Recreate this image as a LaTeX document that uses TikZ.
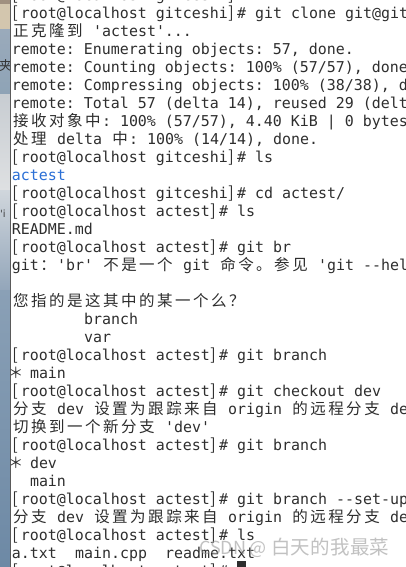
\documentclass[tikz,border=0pt]{standalone}
\usepackage{fontspec}
\setmonofont{DejaVu Sans Mono}
\newfontfamily\cjk{Noto Sans CJK SC}
\newfontfamily\wmfont{Noto Sans CJK SC}
\newfontfamily\deskfont{DejaVu Sans}
\definecolor{term}{HTML}{2E2E2E}
\definecolor{dirblue}{HTML}{2A6FD6}
\makeatletter
\newcommand\zh[1]{{\fontsize{15.5pt}{18pt}\cjk\@tfor\zz@c:=#1\do{\makebox[18pt][c]{\zz@c}}}}
\newcommand\zhw[1]{{\fontsize{19.5pt}{22pt}\wmfont\@tfor\zz@c:=#1\do{\makebox[19.7pt][c]{\zz@c}}}}
\makeatother
\newcommand\lb{\makebox[9pt][l]{\hspace*{0.3pt}\fontsize{16pt}{18pt}\cjk[}}
\newcommand\rb{\makebox[9pt][l]{\hspace*{0.3pt}\fontsize{16pt}{18pt}\cjk]}}
\newcommand\pr[1]{\lb root@localhost #1\rb\# }
\newcommand\curstar{\makebox[9pt][l]{\hspace*{-3.6pt}\fontsize{15pt}{18pt}\cjk ＊}}
\newcommand\tl[4]{\node[txt] (#1) at ({12+9*#3},{18.5+18*#2}) {#4};}
\begin{document}
\begin{tikzpicture}[x=1pt,y=-1pt,
  txt/.style={anchor=base west,inner sep=0pt,outer sep=0pt,text=term,
    font=\ttfamily\fontsize{14.95pt}{18pt}\selectfont},
  wm/.style={anchor=base west,inner sep=0pt,text=black!40,text opacity=0.6}]
\useasboundingbox (0,0) rectangle (406,567);
\clip (0,0) rectangle (406,567);
% desktop strip
\fill[color={rgb,255:red,160;green,144;blue,128}] (0,0) rectangle (10,4);
\fill[color={rgb,255:red,211;green,198;blue,174}] (0,4) rectangle (10,30);
\shade[top color={rgb,255:red,154;green,170;blue,187},bottom color={rgb,255:red,142;green,163;blue,182}] (0,30) rectangle (10,95);
\shade[top color={rgb,255:red,200;green,205;blue,210},bottom color={rgb,255:red,222;green,224;blue,226}] (0,95) rectangle (10,190);
\shade[top color={rgb,255:red,208;green,214;blue,220},bottom color={rgb,255:red,147;green,166;blue,186}] (0,190) rectangle (10,290);
\shade[top color={rgb,255:red,138;green,160;blue,182},bottom color={rgb,255:red,109;green,137;blue,165}] (0,290) rectangle (10,567);
\node[anchor=base west,inner sep=0pt,text=black!80,font=\fontsize{13pt}{14pt}\cjk] (desk1) at (-1,71) {夹};
\node[anchor=base west,inner sep=0pt,text=black!75,font=\deskfont\fontsize{10pt}{12pt}\selectfont] (desk2) at (0,217) {'i};
% terminal
\fill[white] (10,0) rectangle (406,567);
\draw[color={rgb,255:red,90;green,90;blue,90},line width=1pt] (10.5,0) -- (10.5,567);
\tl{top}{-1}{0}{\pr{gitceshi}}
\tl{l0}{0}{0}{\pr{gitceshi}git clone git@git}
\tl{l1}{1}{0}{\zh{正克隆到} 'actest'...}
\tl{l2}{2}{0}{remote: Enumerating objects: 57, done.}
\tl{l3}{3}{0}{remote: Counting objects: 100\% (57/57), done}
\tl{l4}{4}{0}{remote: Compressing objects: 100\% (38/38), d}
\tl{l5}{5}{0}{remote: Total 57 (delta 14), reused 29 (delt}
\tl{l6}{6}{0}{\zh{接收对象中}: 100\% (57/57), 4.40 KiB | 0 bytes}
\tl{l7}{7}{0}{\zh{处理} delta \zh{中}: 100\% (14/14), done.}
\tl{l8}{8}{0}{\pr{gitceshi}ls}
\tl{l9}{9}{0}{\textcolor{dirblue}{actest}}
\tl{l10}{10}{0}{\pr{gitceshi}cd actest/}
\tl{l11}{11}{0}{\pr{actest}ls}
\tl{l12}{12}{0}{README.md}
\tl{l13}{13}{0}{\pr{actest}git br}
\tl{l14}{14}{0}{git\zh{：}'br' \zh{不是一个} git \zh{命令。参见} 'git -{}-hel}
\tl{l16}{16}{0}{\zh{您指的是这其中的某一个么？}}
\tl{l17}{17}{8}{branch}
\tl{l18}{18}{8}{var}
\tl{l19}{19}{0}{\pr{actest}git branch}
\tl{l20}{20}{0}{\curstar\ main}
\tl{l21}{21}{0}{\pr{actest}git checkout dev}
\tl{l22}{22}{0}{\zh{分支} dev \zh{设置为跟踪来自} origin \zh{的远程分支} de}
\tl{l23}{23}{0}{\zh{切换到一个新分支} 'dev'}
\tl{l24}{24}{0}{\pr{actest}git branch}
\tl{l25}{25}{0}{\curstar\ dev}
\tl{l26}{26}{2}{main}
\tl{l27}{27}{0}{\pr{actest}git branch -{}-set-up}
\tl{l28}{28}{0}{\zh{分支} dev \zh{设置为跟踪来自} origin \zh{的远程分支} de}
\tl{l29}{29}{0}{\pr{actest}ls}
\tl{l30a}{30}{0}{a.txt}
\tl{l30b}{30}{7}{main.cpp}
\tl{l30c}{30}{17}{readme.txt}
\tl{l31}{31}{0}{\pr{actest}}
\fill[term] (237,561) rectangle (246,579);
% watermark
\node[wm,font=\fontsize{18pt}{20pt}\wmfont] (wm1) at (199,554.5) {CSDN\hspace{3pt}@};
\node[wm] (wm2) at (271,554.5) {\zhw{白天的我最菜}};
\end{tikzpicture}
\end{document}
